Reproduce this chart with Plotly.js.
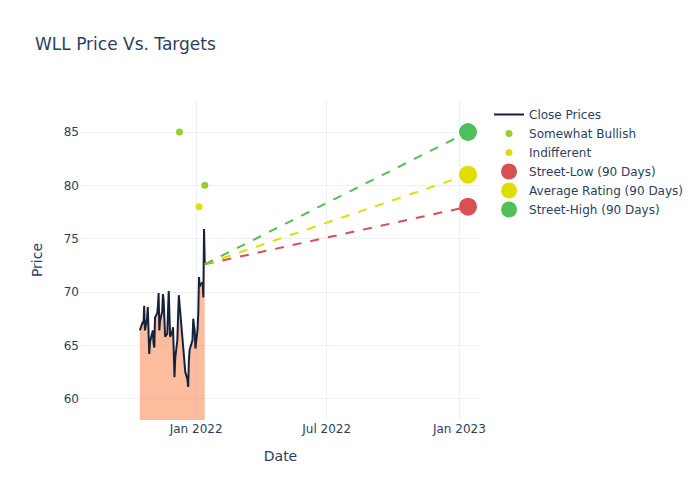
<!DOCTYPE html>
<html>
<head>
<meta charset="utf-8">
<script src="https://cdn.plot.ly/plotly-3.0.1.min.js"></script>
<style>html,body{margin:0;padding:0;}#chart{width:700px;height:500px;}</style>
</head>
<body>
<div id="chart"></div>
<script>
const closeDates = [
  '2021-10-15','2021-10-18','2021-10-19','2021-10-20','2021-10-21','2021-10-22','2021-10-25','2021-10-26','2021-10-27','2021-10-28','2021-10-29',
  '2021-11-01','2021-11-02','2021-11-03','2021-11-04','2021-11-05','2021-11-08','2021-11-09','2021-11-10','2021-11-11','2021-11-12',
  '2021-11-15','2021-11-16','2021-11-17','2021-11-18','2021-11-19','2021-11-22','2021-11-23','2021-11-24','2021-11-26','2021-11-29','2021-11-30',
  '2021-12-01','2021-12-02','2021-12-03','2021-12-06','2021-12-07','2021-12-08','2021-12-09','2021-12-10','2021-12-13','2021-12-14','2021-12-15',
  '2021-12-16','2021-12-17','2021-12-20','2021-12-21','2021-12-22','2021-12-23','2021-12-27','2021-12-28','2021-12-29','2021-12-30','2021-12-31',
  '2022-01-03','2022-01-04','2022-01-05','2022-01-06','2022-01-07','2022-01-10','2022-01-11','2022-01-12','2022-01-13'
];
const closePrices = [
  66.4, 66.9, 67.2, 67.0, 68.7, 66.4, 67.5, 68.6, 66.0, 64.2, 65.3,
  66.2, 66.4, 65.2, 64.8, 67.6, 68.0, 68.6, 69.9, 66.4, 67.3,
  68.2, 69.8, 69.2, 67.0, 65.8, 66.1, 68.5, 70.1, 65.8, 66.3, 66.7,
  64.0, 62.0, 63.8, 65.5, 67.8, 69.7, 68.9, 68.0, 66.2, 64.8, 63.9,
  63.4, 62.5, 61.8, 61.1, 63.6, 64.6, 65.5, 67.5, 66.9, 66.4, 64.7,
  66.5, 68.0, 71.4, 70.5, 70.7, 70.9, 69.5, 75.9, 72.6
];

const bullishDates = ['2021-12-09', '2022-01-13'];
const bullishTargets = [85, 80];
const indifferentDates = ['2022-01-05'];
const indifferentTargets = [78];

const targetDate = '2023-01-13';
const streetLow = 78;
const averageRating = 81;
const streetHigh = 85;

const lastDate = closeDates[closeDates.length - 1];
const lastClose = closePrices[closePrices.length - 1];

const colLow = '#d94f55';
const colAvg = '#dede00';
const colHigh = '#4fc05a';

function targetLine(value, color) {
  return {
    x: [lastDate, targetDate], y: [lastClose, value],
    type: 'scatter', mode: 'lines', showlegend: false, hoverinfo: 'skip',
    line: { color: color, width: 2, dash: 'dash' }
  };
}

function targetMarker(value, color, name) {
  return {
    x: [targetDate], y: [value], type: 'scatter', mode: 'markers', name: name,
    marker: { color: color, size: 18 }
  };
}

const traces = [
  // shaded area under the close prices
  {
    x: closeDates, y: closePrices, type: 'scatter', mode: 'none', showlegend: false,
    fill: 'tozeroy', fillcolor: 'rgba(250,135,80,0.55)', hoverinfo: 'skip'
  },
  {
    x: closeDates, y: closePrices, type: 'scatter', mode: 'lines', name: 'Close Prices',
    line: { color: '#17213a', width: 2 }
  },
  {
    x: bullishDates, y: bullishTargets, type: 'scatter', mode: 'markers', name: 'Somewhat Bullish',
    marker: { color: '#9acd32', size: 7 }
  },
  {
    x: indifferentDates, y: indifferentTargets, type: 'scatter', mode: 'markers', name: 'Indifferent',
    marker: { color: '#dede00', size: 7 }
  },
  targetLine(streetLow, colLow),
  targetLine(averageRating, colAvg),
  targetLine(streetHigh, colHigh),
  targetMarker(streetLow, colLow, 'Street-Low (90 Days)'),
  targetMarker(averageRating, colAvg, 'Average Rating (90 Days)'),
  targetMarker(streetHigh, colHigh, 'Street-High (90 Days)')
];

const layout = {
  width: 700, height: 500,
  font: { family: 'DejaVu Sans, Verdana, sans-serif', color: '#2a3f5f' },
  title: { text: 'WLL Price Vs. Targets', x: 0.05, xanchor: 'left' },
  xaxis: { title: { text: 'Date', standoff: 16 }, automargin: true, type: 'date',
           range: ['2021-07-24', '2023-01-31'],
           tickvals: ['2022-01-01', '2022-07-01', '2023-01-01'],
           ticktext: ['Jan 2022', 'Jul 2022', 'Jan 2023'],
           gridcolor: '#EBF0F8', zeroline: false },
  yaxis: { title: { text: 'Price' }, range: [58, 88], dtick: 5,
           gridcolor: '#EBF0F8', zeroline: false },
  plot_bgcolor: 'white',
  paper_bgcolor: 'white'
};

Plotly.newPlot('chart', traces, layout, { displayModeBar: false });
</script>
</body>
</html>
